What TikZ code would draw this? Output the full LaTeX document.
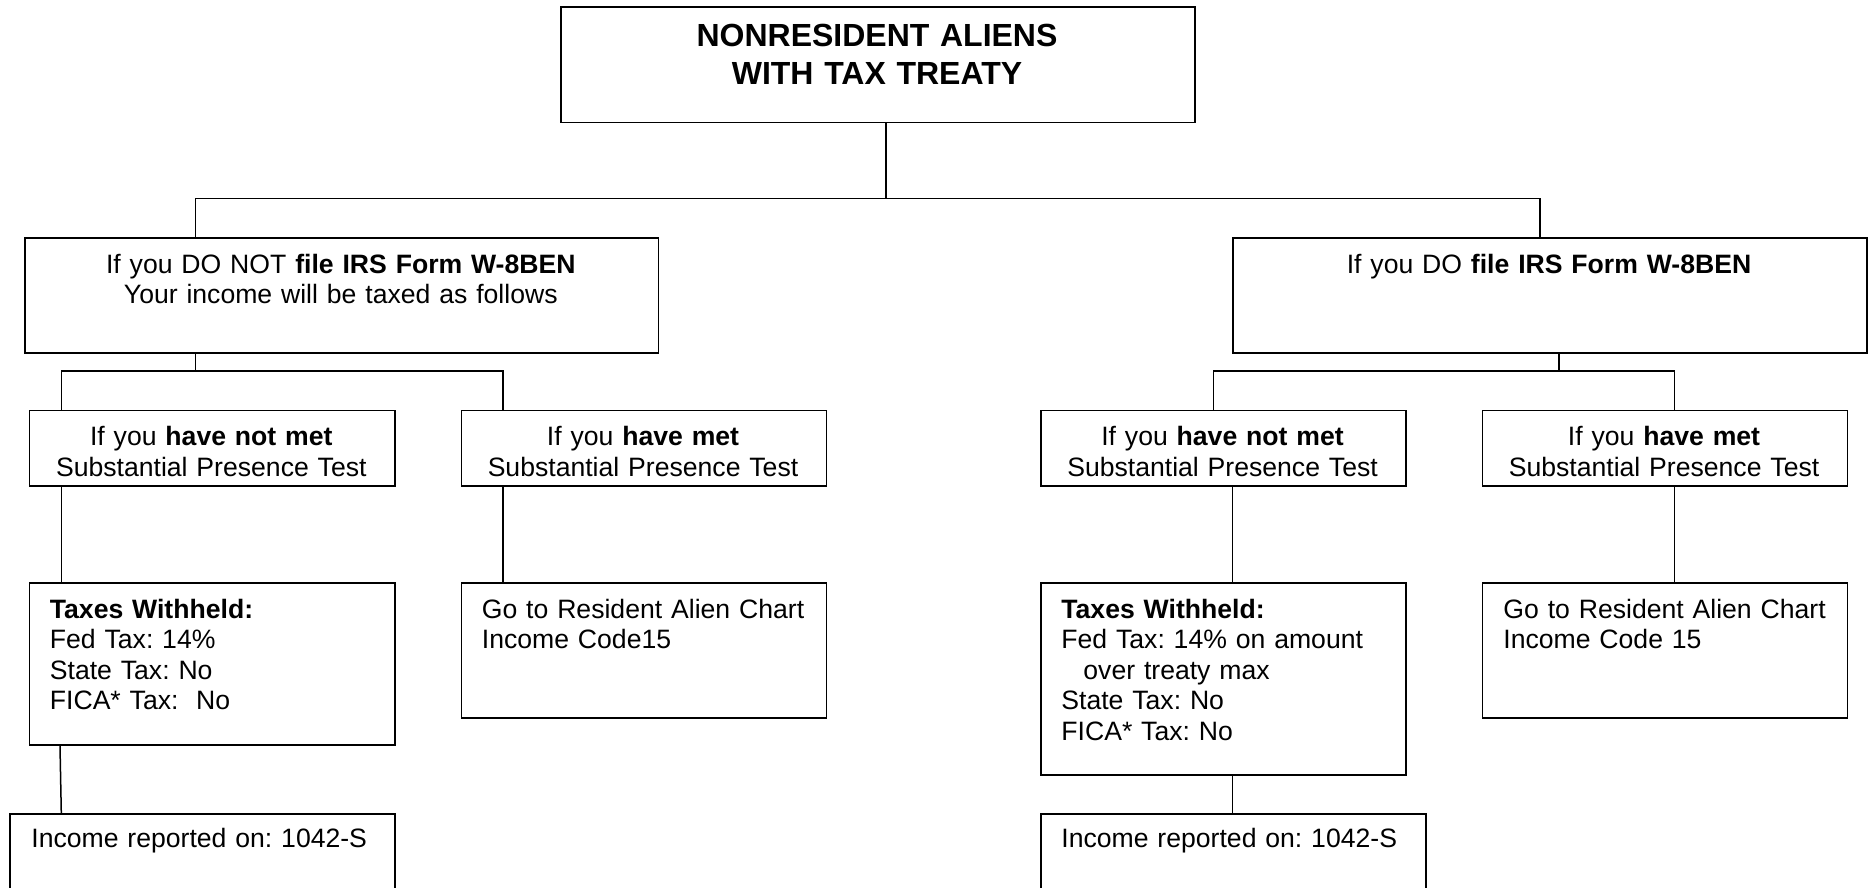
\documentclass[tikz,border=0pt]{standalone}
\usepackage{fontspec}
\setmainfont{Liberation Sans}
\frenchspacing
\begin{document}
\begin{tikzpicture}[x=0.5pt,y=-0.5pt,
  box/.style={draw, line width=0.9pt, inner sep=0pt, anchor=north west},
  conn/.style={line width=0.75pt},
  txt/.style={inner sep=0pt, font=\fontsize{13.3}{15.25}\selectfont},
  ctxt/.style={txt, anchor=north, align=center, text width=300pt},
  ltxt/.style={txt, anchor=north west, align=left, text width=180pt},
  ttxt/.style={inner sep=0pt, anchor=north, align=center, text width=300pt, font=\fontsize{16}{19}\selectfont\bfseries},
]
\clip (0,0) rectangle (1868,888);
% boxes
\node[box, minimum width=317pt,   minimum height=57.85pt] (top) at (560,6) {};
\node[box, minimum width=316.8pt, minimum height=57.35pt] (L1) at (24,237) {};
\node[box, minimum width=317pt,   minimum height=57.35pt] (R1) at (1232,237) {};
\node[box, minimum width=182.7pt, minimum height=37.6pt] (LL2) at (28.6,409.5) {};
\node[box, minimum width=182.55pt,minimum height=37.6pt] (LR2) at (460.5,409.5) {};
\node[box, minimum width=182.5pt, minimum height=37.6pt] (RL2) at (1040,409.5) {};
\node[box, minimum width=182.55pt,minimum height=37.6pt] (RR2) at (1481.5,409.5) {};
\node[box, minimum width=182.7pt, minimum height=80.85pt] (LL3) at (28.6,582.3) {};
\node[box, minimum width=182.55pt,minimum height=67.2pt] (LR3) at (460.5,582.3) {};
\node[box, minimum width=182.5pt, minimum height=95.85pt] (RL3) at (1040,582.3) {};
\node[box, minimum width=182.55pt,minimum height=67.2pt] (RR3) at (1481.5,582.3) {};
\node[box, minimum width=192.5pt, minimum height=50pt] (LL4) at (9,813) {};
\node[box, minimum width=192.5pt, minimum height=50pt] (RL4) at (1040,813) {};
% texts
\node[ttxt] (tTop) at (877,20) {\strut NONRESIDENT ALIENS\\WITH TAX TREATY};
\node[ctxt] (tL1) at (340.8,251.5) {\strut If you DO NOT \textbf{file IRS Form W-8BEN}\\Your income will be taxed as follows};
\node[ctxt] (tR1) at (1549,251.5) {\strut If you DO \textbf{file IRS Form W-8BEN}};
\node[ctxt] (tLL2) at (211.3,424.1) {\strut If you \textbf{have not met}\\Substantial Presence Test};
\node[ctxt] (tLR2) at (643,424.1) {\strut If you \textbf{have met}\\Substantial Presence Test};
\node[ctxt] (tRL2) at (1222.5,424.1) {\strut If you \textbf{have not met}\\Substantial Presence Test};
\node[ctxt] (tRR2) at (1664,424.1) {\strut If you \textbf{have met}\\Substantial Presence Test};
\node[ltxt] (tLL3) at (49.5,596.5) {\strut\textbf{Taxes Withheld:}\\Fed Tax: 14\%\\State Tax: No\\FICA* Tax:\ \ No};
\node[ltxt] (tLR3) at (481.5,596.5) {\strut Go to Resident Alien Chart\\Income Code15};
\node[ltxt] (tRL3) at (1061,596.5) {\strut\textbf{Taxes Withheld:}\\Fed Tax: 14\% on amount\\\hspace*{11pt}over treaty max\\State Tax: No\\FICA* Tax: No};
\node[ltxt] (tRR3) at (1503,596.5) {\strut Go to Resident Alien Chart\\Income Code 15};
\node[ltxt] (tLL4) at (31,826.2) {\strut Income reported on: 1042-S};
\node[ltxt] (tRL4) at (1061,826.2) {\strut Income reported on: 1042-S};
% bus coordinates
\coordinate (b0) at (886,198.5);
\coordinate (busL) at (195.4,198.5);
\coordinate (busR) at (1540,198.5);
\coordinate (sL) at (195.4,371);
\coordinate (sL1) at (61.4,371);
\coordinate (sL2) at (502.8,371);
\coordinate (sR) at (1559,371);
\coordinate (sR1) at (1213.4,371);
\coordinate (sR2) at (1674.5,371);
\coordinate (cRL) at (1232.4,0);
\coordinate (cL3a) at (60,0);
\coordinate (cL3b) at (61.3,0);
% connectors
\draw[conn] (b0 |- top.south) -- (b0);
\draw[conn] (busL |- L1.north) -- (busL) -- (busR) -- (busR |- R1.north);
\draw[conn] (sL |- L1.south) -- (sL);
\draw[conn] (sL1 |- LL2.north) -- (sL1) -- (sL2) -- (sL2 |- LR2.north);
\draw[conn] (sR |- R1.south) -- (sR);
\draw[conn] (sR1 |- RL2.north) -- (sR1) -- (sR2) -- (sR2 |- RR2.north);
\draw[conn] (sL1 |- LL2.south) -- (sL1 |- LL3.north);
\draw[conn] (sL2 |- LR2.south) -- (sL2 |- LR3.north);
\draw[conn] (cRL |- RL2.south) -- (cRL |- RL3.north);
\draw[conn] (sR2 |- RR2.south) -- (sR2 |- RR3.north);
\draw[conn] (cL3a |- LL3.south) -- (cL3b |- LL4.north);
\draw[conn] (cRL |- RL3.south) -- (cRL |- RL4.north);
\end{tikzpicture}
\end{document}
